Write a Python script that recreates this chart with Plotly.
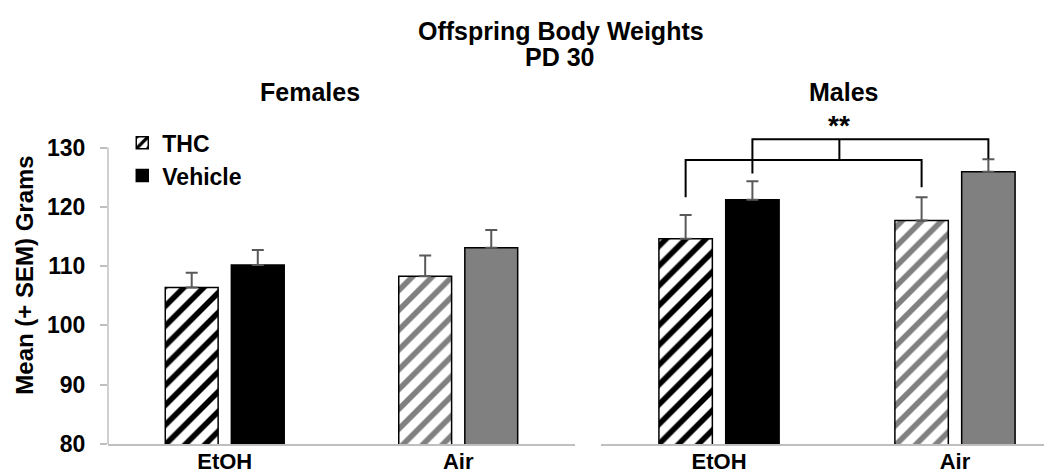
import plotly.graph_objects as go

# ---------------- data ----------------
categories = ["EtOH", "Air"]
female_thc = [106.4, 108.3]
female_thc_sem = [2.5, 3.5]
female_veh = [110.2, 113.1]
female_veh_sem = [2.5, 3.0]
male_thc = [114.6, 117.7]
male_thc_sem = [4.0, 3.9]
male_veh = [121.2, 125.9]
male_veh_sem = [3.1, 2.1]
y_ticks = [80, 90, 100, 110, 120, 130]

# significance bracket (males): level and leg ends in data units
low_bracket = dict(level=127.9, left_end=121.6, right_end=123.3)
high_bracket = dict(level=131.4, left_end=125.6, right_end=128.1)
connector_x = 0.51
star_y = 133.7

# ---------------- style ----------------
FONT = "Liberation Sans, Arial, sans-serif"
cat_colors = ["#000000", "#808080"]
err_color = "#595959"
axis_color = "#bfbfbf"
bargap = 0.434
bargroupgap = 0.2
offset = (1 - bargap) / 4

fig = go.Figure()


def add_panel(thc, thc_sem, veh, veh_sem, xa, ya, showlegend):
    fig.add_trace(go.Bar(
        x=categories, y=thc, name="THC", xaxis=xa, yaxis=ya,
        showlegend=showlegend, legendgroup="THC",
        marker=dict(color="white",
                    line=dict(color="black", width=1.5),
                    pattern=dict(shape="/", fgcolor=cat_colors, bgcolor="white",
                                 size=14, solidity=0.4, fillmode="replace")),
        error_y=dict(type="data", array=thc_sem, symmetric=False,
                     arrayminus=[0] * len(thc), color=err_color,
                     thickness=2, width=6),
    ))
    fig.add_trace(go.Bar(
        x=categories, y=veh, name="Vehicle", xaxis=xa, yaxis=ya,
        showlegend=showlegend, legendgroup="Vehicle",
        marker=dict(color=cat_colors, line=dict(color="black", width=1.5)),
        error_y=dict(type="data", array=veh_sem, symmetric=False,
                     arrayminus=[0] * len(veh), color=err_color,
                     thickness=2, width=6),
    ))


add_panel(female_thc, female_thc_sem, female_veh, female_veh_sem, "x", "y", True)
add_panel(male_thc, male_thc_sem, male_veh, male_veh_sem, "x2", "y2", False)

# brackets
line_style = dict(color="black", width=2)
shapes = []
thc_pos = [i - offset for i in range(len(categories))]
veh_pos = [i + offset for i in range(len(categories))]
for br, pos in ((low_bracket, thc_pos), (high_bracket, veh_pos)):
    x0, x1 = pos[0], pos[1]
    shapes.append(dict(type="path", xref="x2", yref="y2",
                       path=f"M {x0},{br['left_end']} L {x0},{br['level']} "
                            f"L {x1},{br['level']} L {x1},{br['right_end']}",
                       line=line_style))
shapes.append(dict(type="line", xref="x2", yref="y2",
                   x0=connector_x, x1=connector_x,
                   y0=low_bracket["level"], y1=high_bracket["level"],
                   line=line_style))
# left y-axis line only up to the top tick
shapes.append(dict(type="line", xref="paper", yref="y", x0=0, x1=0,
                   y0=y_ticks[0], y1=y_ticks[-1],
                   line=dict(color=axis_color, width=1.5)))

title_font = dict(family=FONT, size=25, color="black", weight="bold")
annotations = [
    dict(text="Offspring Body Weights", xref="paper", yref="paper",
         x=0.476, y=1.222, showarrow=False, font=title_font,
         xanchor="center", yanchor="middle"),
    dict(text="PD 30", xref="paper", yref="paper",
         x=0.474, y=1.145, showarrow=False, font=title_font,
         xanchor="center", yanchor="middle"),
    dict(text="Females", xref="paper", yref="paper",
         x=0.212, y=1.041, showarrow=False, font=title_font,
         xanchor="center", yanchor="middle"),
    dict(text="Males", xref="paper", yref="paper",
         x=0.773, y=1.041, showarrow=False, font=title_font,
         xanchor="center", yanchor="middle"),
    dict(text="**", xref="x2", yref="y2", x=connector_x, y=star_y,
         showarrow=False, font=dict(family=FONT, size=28, color="black", weight="bold"),
         xanchor="center", yanchor="middle"),
]

tick_font = dict(family=FONT, size=22, color="black", weight="bold")
yrange = [80, 137]

fig.update_layout(
    width=1052, height=476,
    margin=dict(l=100, r=0, t=98, b=40),
    paper_bgcolor="white", plot_bgcolor="white",
    barmode="group", bargap=bargap, bargroupgap=bargroupgap,
    showlegend=True,
    legend=dict(x=0.015, y=0.955, xanchor="left", yanchor="top",
                bgcolor="rgba(0,0,0,0)",
                font=dict(family=FONT, size=23, color="black", weight="bold"),
                traceorder="normal"),
    shapes=shapes,
    annotations=annotations,
    xaxis=dict(domain=[0, 0.4905], range=[-0.5, 1.5], showline=True,
               linecolor=axis_color, linewidth=1.5, ticks="", tickfont=tick_font,
               ticklabelstandoff=-3,
               showgrid=False, zeroline=False),
    xaxis2=dict(domain=[0.5179, 1], range=[-0.5, 1.445], showline=True,
                linecolor=axis_color, linewidth=1.5, ticks="", tickfont=tick_font,
                ticklabelstandoff=-3,
                showgrid=False, zeroline=False, anchor="y2"),
    yaxis=dict(range=yrange, tickvals=y_ticks, ticks="outside", ticklen=7,
               tickcolor=axis_color, tickwidth=1.5, showline=False,
               showgrid=False, zeroline=False,
               tickfont=dict(family=FONT, size=23, color="black", weight="bold"),
               ticklabelstandoff=10,
               title=dict(text="Mean (+ SEM) Grams", standoff=6,
                          font=dict(family=FONT, size=24, color="black", weight="bold"))),
    yaxis2=dict(range=yrange, anchor="x2", visible=False, showgrid=False,
                zeroline=False),
)

fig.write_html("out.html")
